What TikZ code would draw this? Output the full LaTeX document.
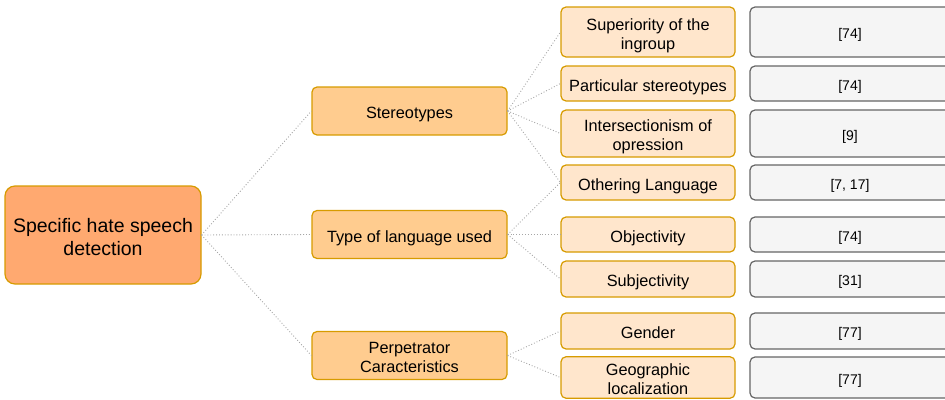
\documentclass[tikz,border=0pt]{standalone}
\usepackage{fontspec}
\setmainfont{Liberation Sans}
\usepackage{xcolor}
\usetikzlibrary{positioning}

\definecolor{rootfill}{HTML}{FFA970}
\definecolor{midfill}{HTML}{FFCC8F}
\definecolor{leaffill}{HTML}{FFE6CC}
\definecolor{orangeline}{HTML}{D79B00}
\definecolor{reffill}{HTML}{F5F5F5}
\definecolor{refline}{HTML}{666666}

% texto en dos lineas, centrado como una sola
\newcommand{\twolines}[2]{\rule{0pt}{1.15em}#1\\#2\rule[-0.21em]{0pt}{0pt}}

\tikzset{
  textpos/.style={execute at begin node={\rule{0pt}{1.15em}},
    execute at end node={\rule[-0.21em]{0pt}{0pt}}},
  rootbox/.style={textpos, draw=orangeline, fill=rootfill, line width=1.2pt, rounded corners=10pt,
    minimum width=196pt, minimum height=98pt, align=center, inner sep=0pt,
    font=\fontsize{19.5}{22.5}\selectfont},
  midbox/.style={textpos, draw=orangeline, fill=midfill, line width=1.2pt, rounded corners=5pt,
    minimum width=195pt, minimum height=48pt, align=center, inner sep=0pt,
    font=\fontsize{16.3}{19.3}\selectfont},
  leafbox/.style={textpos, draw=orangeline, fill=leaffill, line width=1.2pt, rounded corners=5pt,
    minimum width=174pt, align=center, inner sep=0pt,
    font=\fontsize{16.3}{19.3}\selectfont},
  refbox/.style={textpos, draw=refline, fill=reffill, line width=1.2pt, rounded corners=5pt,
    minimum width=200pt, align=center, inner sep=0pt,
    font=\fontsize{14}{17}\selectfont},
  conn/.style={draw=gray!70, dotted, line width=0.9pt}
}

\begin{document}
\begin{tikzpicture}[x=1pt,y=-1pt]
  % Marco de la figura
  \clip (0,0) rectangle (945,399);

  % Raiz
  \node[rootbox] (root) at (103,235) {\twolines{Specific hate speech}{detection}};

  % Segundo nivel
  \node[midbox] (st) at (409.5,111) {Stereotypes};
  \node[midbox] (tl) at (409.5,234.5) {Type of language used};
  \node[midbox] (pc) at (409.5,355.5) {\twolines{Perpetrator}{Caracteristics}};

  % Hojas
  \node[leafbox, minimum height=50pt] (sup) at (648,32) {\twolines{Superiority of the}{ingroup}};
  \node[leafbox, minimum height=35pt] (par) at (648,83.5) {Particular stereotypes};
  \node[leafbox, minimum height=47pt] (int) at (648,133.5) {\twolines{Intersectionism of}{opression}};
  \node[leafbox, minimum height=35pt] (oth) at (648,182.5) {Othering Language};
  \node[leafbox, minimum height=35pt] (obj) at (648,234.5) {Objectivity};
  \node[leafbox, minimum height=36pt] (sub) at (648,279) {Subjectivity};
  \node[leafbox, minimum height=36pt] (gen) at (648,331) {Gender};
  \node[leafbox, minimum height=41pt] (geo) at (648,377.5) {\twolines{Geographic}{localization}};

  % Referencias
  \node[refbox, minimum height=50pt] (rsup) at (850,32) {[74]};
  \node[refbox, minimum height=35pt] (rpar) at (850,83.5) {[74]};
  \node[refbox, minimum height=47pt] (rint) at (850,133.5) {[9]};
  \node[refbox, minimum height=35pt] (roth) at (850,182.5) {[7, 17]};
  \node[refbox, minimum height=35pt] (robj) at (850,234.5) {[74]};
  \node[refbox, minimum height=36pt] (rsub) at (850,279) {[31]};
  \node[refbox, minimum height=36pt] (rgen) at (850,331) {[77]};
  \node[refbox, minimum height=41pt] (rgeo) at (850,377.5) {[77]};

  % Conexiones
  \foreach \c in {st,tl,pc}
    \draw[conn] (root.east) -- (\c.west);
  \foreach \c in {sup,par,int,oth}
    \draw[conn] (st.east) -- (\c.west);
  \foreach \c in {oth,obj,sub}
    \draw[conn] (tl.east) -- (\c.west);
  \foreach \c in {gen,geo}
    \draw[conn] (pc.east) -- (\c.west);
\end{tikzpicture}
\end{document}
